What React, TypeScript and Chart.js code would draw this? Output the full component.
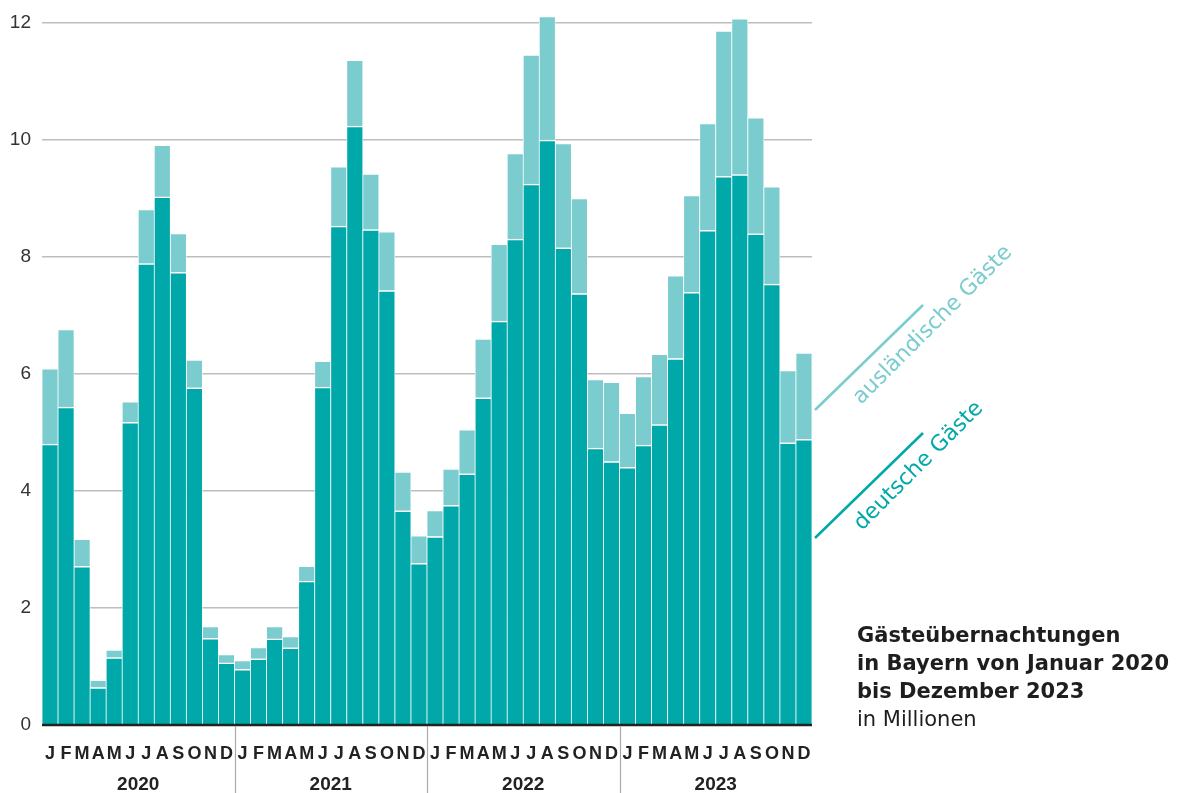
import { useEffect, useRef } from 'react';
import { Chart, registerables } from 'chart.js';

Chart.register(...registerables);

const years = ['2020', '2021', '2022', '2023'];
const monthInitials = ['J', 'F', 'M', 'A', 'M', 'J', 'J', 'A', 'S', 'O', 'N', 'D'];

// Übernachtungen in Mio., Jan 2020 – Dez 2023
const domestic = [
  4.80, 5.43, 2.71, 0.64, 1.15, 5.17, 7.88, 9.02, 7.73, 5.76, 1.48, 1.06,
  0.95, 1.13, 1.47, 1.32, 2.46, 5.77, 8.52, 10.23, 8.46, 7.42, 3.66, 2.76,
  3.22, 3.75, 4.29, 5.59, 6.90, 8.30, 9.24, 9.99, 8.15, 7.37, 4.73, 4.50,
  4.40, 4.78, 5.13, 6.26, 7.39, 8.45, 9.37, 9.40, 8.39, 7.53, 4.82, 4.88,
];
const foreign = [
  1.29, 1.33, 0.47, 0.13, 0.14, 0.36, 0.93, 0.89, 0.67, 0.48, 0.21, 0.15,
  0.16, 0.20, 0.22, 0.20, 0.26, 0.45, 1.02, 1.13, 0.96, 1.01, 0.67, 0.48,
  0.45, 0.63, 0.76, 1.01, 1.32, 1.47, 2.21, 2.12, 1.79, 1.63, 1.18, 1.36,
  0.93, 1.18, 1.21, 1.42, 1.66, 1.83, 2.49, 2.67, 1.99, 1.67, 1.24, 1.48,
];
const yTicks = [0, 2, 4, 6, 8, 10, 12];

const labels = years.flatMap(y => monthInitials.map((m, i) => `${m} ${i + 1}/${y}`));

const TEAL = '#00a8a9';
const TEAL_LIGHT = '#7acccf';

const decor = {
  id: 'decor',
  afterDatasetsDraw(chart: Chart) {
    const { ctx, chartArea: { left, right, bottom }, scales: { x } } = chart;
    ctx.save();

    // Nulllinie
    ctx.strokeStyle = '#222';
    ctx.lineWidth = 2.5;
    ctx.beginPath();
    ctx.moveTo(left, bottom);
    ctx.lineTo(right, bottom);
    ctx.stroke();

    // Jahrestrenner + Jahreszahlen
    ctx.font = 'bold 19px "Liberation Sans"';
    ctx.fillStyle = '#222';
    ctx.textAlign = 'center';
    ctx.textBaseline = 'middle';
    years.forEach((yr, k) => {
      const a = x.getPixelForValue(k * 12);
      const b = x.getPixelForValue(k * 12 + 11);
      if (k > 0) {
        const sx = Math.round((x.getPixelForValue(k * 12 - 1) + a) / 2) + 0.5;
        ctx.strokeStyle = '#aaa';
        ctx.lineWidth = 1.2;
        ctx.beginPath();
        ctx.moveTo(sx, bottom + 1);
        ctx.lineTo(sx, chart.height);
        ctx.stroke();
      }
      ctx.fillText(yr, (a + b) / 2, bottom + 60);
    });

    // Beschriftung der Reihen, schräg
    const drawKey = (text: string, color: string, y0: number, tx: number, ty: number) => {
      ctx.strokeStyle = color;
      ctx.lineWidth = 2.5;
      ctx.beginPath();
      ctx.moveTo(right + 3, bottom - y0);
      ctx.lineTo(right + 111, bottom - y0 - 105);
      ctx.stroke();
      ctx.save();
      ctx.translate(right + tx, bottom - ty);
      ctx.rotate(-Math.PI / 4);
      ctx.font = '22px "DejaVu Sans"';
      ctx.fillStyle = color;
      ctx.textAlign = 'left';
      ctx.textBaseline = 'alphabetic';
      ctx.fillText(text, 0, 0);
      ctx.restore();
    };
    drawKey('ausländische Gäste', TEAL_LIGHT, 315, 49, 320);
    drawKey('deutsche Gäste', TEAL, 187, 50, 194);

    ctx.restore();
  },
};

export default function App() {
  const canvasRef = useRef<HTMLCanvasElement>(null);

  useEffect(() => {
    if (!canvasRef.current) return;
    const bar = {
      borderColor: '#ffffff',
      borderWidth: { top: 1.5, left: 0.75, right: 0.75, bottom: 0 },
      barPercentage: 1,
      categoryPercentage: 1,
      clip: false as const,
    };
    const chart = new Chart(canvasRef.current, {
      type: 'bar',
      data: {
        labels,
        datasets: [
          { label: 'deutsche Gäste', data: domestic, backgroundColor: TEAL, ...bar },
          { label: 'ausländische Gäste', data: foreign, backgroundColor: TEAL_LIGHT, ...bar },
        ],
      },
      options: {
        responsive: true,
        maintainAspectRatio: false,
        animation: false,
        layout: { padding: { top: 22, right: 365, left: 0, bottom: 0 } },
        plugins: {
          legend: { display: false },
          tooltip: { enabled: false },
        },
        scales: {
          x: {
            stacked: true,
            grid: { display: false },
            border: { display: false },
            ticks: {
              autoSkip: false,
              maxRotation: 0,
              minRotation: 0,
              padding: 10,
              color: '#222',
              font: { family: 'Liberation Sans', size: 18, weight: 'bold' },
              callback: (_v, i) => monthInitials[i % 12],
            },
            afterFit: s => { s.height = 68; },
          },
          y: {
            stacked: true,
            min: 0,
            max: 12,
            afterBuildTicks: s => { s.ticks = yTicks.map(v => ({ value: v })); },
            ticks: {
              padding: 11,
              color: '#333',
              font: { family: 'Liberation Sans', size: 19 },
            },
            grid: { color: '#bdbdbd', lineWidth: 1.5, drawTicks: false },
            border: { display: false },
            afterFit: s => { s.width = 42; },
          },
        },
      },
      plugins: [decor],
    });
    return () => { chart.destroy(); };
  }, []);

  return (
    <div style={{ position: 'absolute', left: 0, top: 0, width: 1177, height: 793 }}>
      <canvas ref={canvasRef} />
      <div
        style={{
          position: 'absolute',
          left: 857,
          top: 621,
          fontFamily: '"DejaVu Sans", sans-serif',
          fontSize: 21,
          lineHeight: '28px',
          color: '#1e1e1e',
          whiteSpace: 'nowrap',
        }}
      >
        <div style={{ fontWeight: 'bold' }}>Gästeübernachtungen</div>
        <div style={{ fontWeight: 'bold' }}>in Bayern von Januar 2020</div>
        <div style={{ fontWeight: 'bold' }}>bis Dezember 2023</div>
        <div>in Millionen</div>
      </div>
    </div>
  );
}
